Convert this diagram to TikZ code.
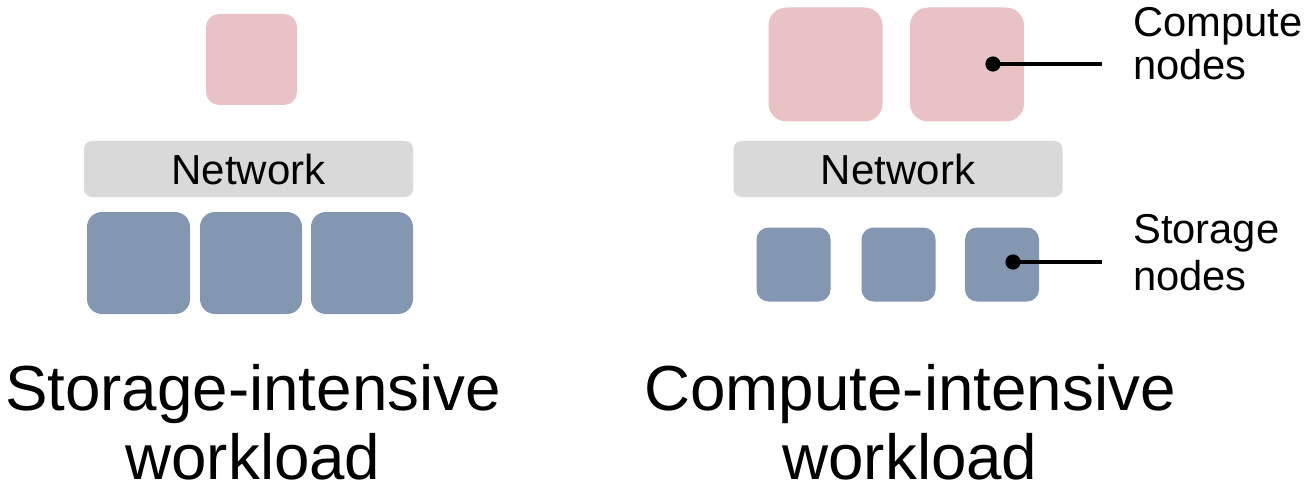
\documentclass[tikz,border=0pt]{standalone}
\usepackage{fontspec}
\setmainfont{Liberation Sans}
\definecolor{computecol}{RGB}{233,194,198}
\definecolor{storagecol}{RGB}{132,151,176}
\definecolor{netcol}{RGB}{217,217,217}
\begin{document}
\begin{tikzpicture}[x=1pt,y=-1pt,
  box/.style={rectangle, draw=none, inner sep=0pt, outer sep=0pt},
  computebox/.style={box, fill=computecol, rounded corners=#1},
  computebox/.default=14pt,
  storagebox/.style={box, fill=storagecol, rounded corners=#1},
  storagebox/.default=14pt,
  netbox/.style={box, fill=netcol, rounded corners=8pt,
    font=\fontsize{42}{46}\selectfont},
  lead/.style={line width=3.5pt},
  leaddot/.style={fill=black},
  sidelabel/.style={anchor=base west, inner sep=0pt, align=left,
    font=\fontsize{41.7}{#1}\selectfont},
  caption/.style={anchor=base, inner sep=0pt, align=center,
    font=\fontsize{63.7}{69}\selectfont}]
\useasboundingbox (0,0) rectangle (1304,484);

% storage-intensive workload
\node[computebox=13pt, minimum width=91pt, minimum height=91pt] (lc) at (251.5,59.5) {};
\node[netbox, minimum width=329pt, minimum height=56pt] (lnet) at (248.5,169) {Network};
\node[storagebox=15pt, minimum width=103pt, minimum height=102pt] (ls1) at (138.5,263) {};
\node[storagebox=15pt, minimum width=102pt, minimum height=102pt] (ls2) at (251,263) {};
\node[storagebox=15pt, minimum width=102pt, minimum height=102pt] (ls3) at (362,263) {};
\node[caption] (lcap) at (253,479) {Storage-intensive\\workload};

% compute-intensive workload
\node[computebox=18pt, minimum width=114pt, minimum height=114pt] (rc1) at (825.5,64.5) {};
\node[computebox=18pt, minimum width=114pt, minimum height=114pt] (rc2) at (967,64.5) {};
\node[netbox, minimum width=329pt, minimum height=56pt] (rnet) at (898,169) {Network};
\node[storagebox=12pt, minimum width=74pt, minimum height=74pt] (rs1) at (793.5,264.5) {};
\node[storagebox=12pt, minimum width=74pt, minimum height=74pt] (rs2) at (898.5,264.5) {};
\node[storagebox=12pt, minimum width=74pt, minimum height=74pt] (rs3) at (1002,264.5) {};
\node[caption] (rcap) at (910,479) {Compute-intensive\\workload};

% callouts
\coordinate (cdot) at (993,64);
\coordinate (cend) at (1102,64);
\coordinate (sdot) at (1013,262);
\coordinate (send) at (1102,262);
\draw[lead] (cdot) -- (cend);
\fill[leaddot] (cdot) circle (7.6pt);
\draw[lead] (sdot) -- (send);
\fill[leaddot] (sdot) circle (7.6pt);
\node[sidelabel=43.3] (clab) at (1133,80) {Compute\\nodes};
\node[sidelabel=46.7] (slab) at (1133,290) {Storage\\nodes};
\end{tikzpicture}
\end{document}
